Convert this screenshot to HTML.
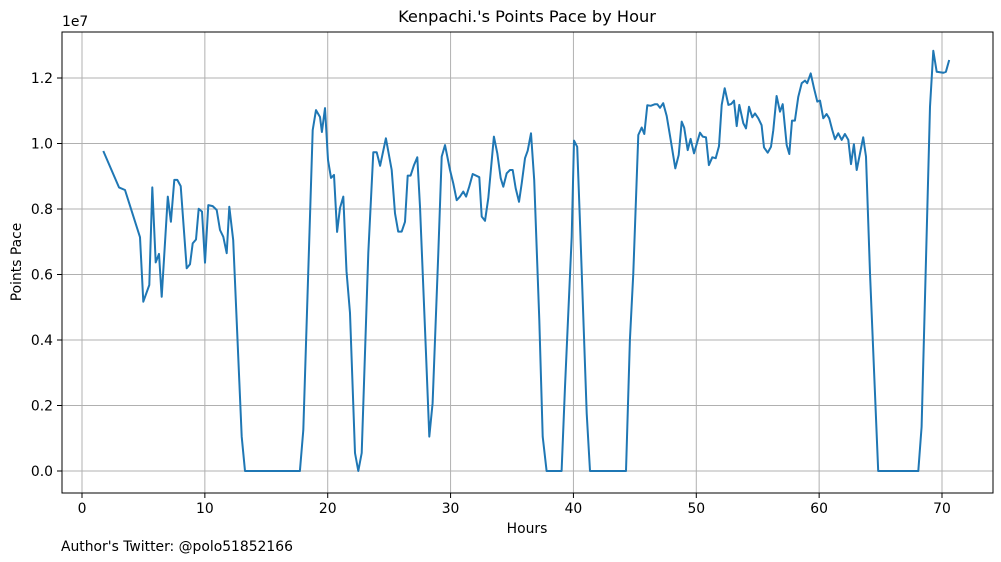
<!DOCTYPE html>
<html><head><meta charset="utf-8"><style>
html,body{margin:0;padding:0;background:#fff;}
svg{display:block;font-family:"DejaVu Sans","Liberation Sans",sans-serif;}
</style></head><body>
<svg id="chart" width="1001" height="562" viewBox="0 0 1001 562">
<rect width="1001" height="562" fill="#fff"/>
<text x="527" y="22" text-anchor="middle" font-size="16.2" fill="#000">Kenpachi.'s Points Pace by Hour</text>
<g id="grid"></g>
<g id="axes"></g>
<path id="series" fill="none" stroke="#1f77b4" stroke-width="2" stroke-linejoin="round"/>
<rect x="62" y="32" width="931" height="461" fill="none" stroke="#000" stroke-width="1"/>
<text x="62" y="26" font-size="13.9">1e7</text>
<text x="527" y="533" text-anchor="middle" font-size="13.9">Hours</text>
<text x="21" y="262" text-anchor="middle" font-size="13.9" transform="rotate(-90 21 262)">Points Pace</text>
<text x="61" y="551" font-size="13.9">Author's Twitter: @polo51852166</text>
</svg>
<script>
const hours=[1.73,3.01,3.50,4.72,4.99,5.48,5.72,6.00,6.27,6.49,6.98,7.24,7.51,7.76,8.03,8.52,8.79,9.01,9.28,9.50,9.77,10.01,10.28,10.64,10.96,11.23,11.50,11.78,11.99,12.31,13.00,13.27,17.74,18.01,18.78,19.05,19.37,19.53,19.78,20.02,20.27,20.51,20.76,21.00,21.27,21.53,21.81,22.22,22.49,22.77,23.30,23.71,23.99,24.26,24.74,25.21,25.48,25.74,26.02,26.29,26.51,26.75,27.02,27.29,27.51,28.00,28.27,28.54,29.00,29.28,29.55,29.95,30.22,30.50,30.77,31.04,31.26,31.52,31.80,32.34,32.53,32.80,33.07,33.53,33.80,34.08,34.29,34.57,34.84,35.06,35.30,35.57,35.79,36.06,36.28,36.55,36.81,37.22,37.50,37.82,39.04,39.31,39.86,40.05,40.31,40.53,41.08,41.35,44.28,44.60,44.87,45.28,45.56,45.77,46.01,46.29,46.64,46.83,47.05,47.31,47.59,47.92,48.29,48.57,48.81,49.02,49.30,49.54,49.81,50.30,50.52,50.79,51.03,51.30,51.58,51.85,52.07,52.31,52.61,52.85,53.07,53.29,53.50,53.83,54.05,54.29,54.56,54.78,55.05,55.32,55.51,55.81,56.08,56.27,56.54,56.81,57.03,57.36,57.57,57.79,58.03,58.30,58.58,58.85,59.03,59.31,59.58,59.85,60.07,60.34,60.61,60.82,61.07,61.29,61.56,61.84,62.10,62.37,62.59,62.83,63.06,63.59,63.81,64.14,64.81,68.07,68.34,69.02,69.29,69.57,70.10,70.32,70.59];
const paceMillions=[9.77,8.66,8.58,7.14,5.17,5.68,8.66,6.37,6.63,5.32,8.38,7.61,8.89,8.89,8.70,6.19,6.31,6.95,7.07,8.01,7.92,6.36,8.12,8.09,7.97,7.36,7.15,6.65,8.07,7.05,1.05,0,0,1.25,10.41,11.02,10.81,10.35,11.08,9.50,8.95,9.04,7.30,8.03,8.38,6.10,4.82,0.55,0,0.55,6.66,9.73,9.73,9.32,10.16,9.19,7.87,7.31,7.31,7.61,9.02,9.02,9.34,9.58,8.07,3.59,1.05,2.07,6.65,9.60,9.95,9.19,8.78,8.27,8.38,8.53,8.38,8.68,9.07,8.97,7.77,7.64,8.33,10.21,9.70,8.94,8.68,9.09,9.19,9.19,8.63,8.22,8.78,9.55,9.78,10.31,8.89,4.61,1.05,0,0,2.57,7.15,10.09,9.90,7.66,1.76,0,0,4.0,6.04,10.26,10.49,10.29,11.17,11.15,11.20,11.20,11.09,11.23,10.84,10.11,9.24,9.65,10.67,10.48,9.80,10.14,9.70,10.33,10.21,10.19,9.34,9.58,9.55,9.92,11.18,11.69,11.18,11.21,11.31,10.53,11.18,10.62,10.46,11.12,10.80,10.92,10.77,10.56,9.88,9.72,9.90,10.41,11.45,10.97,11.20,9.95,9.68,10.70,10.70,11.43,11.84,11.92,11.84,12.14,11.69,11.28,11.31,10.77,10.90,10.77,10.41,10.13,10.31,10.11,10.29,10.11,9.37,9.98,9.19,10.19,9.60,6.04,0,0,1.35,11.12,12.83,12.19,12.16,12.19,12.55];
const xTicks=[0,10,20,30,40,50,60,70];
const yTicks=[0,2,4,6,8,10,12];
const yTickLabels=["0.0","0.2","0.4","0.6","0.8","1.0","1.2"];

const NS="http://www.w3.org/2000/svg";
const X=h=>82+h*(942-82)/70;
const Y=v=>471-v*(471-78)/12;
const grid=document.getElementById('grid'), axes=document.getElementById('axes');
function mk(tag,attrs,parent){const e=document.createElementNS(NS,tag);for(const k in attrs)e.setAttribute(k,attrs[k]);parent.appendChild(e);return e;}
xTicks.forEach(t=>{
  const x=X(t);
  const g=mk('line',{x1:x,x2:x,y1:32,y2:493,stroke:'#b0b0b0','stroke-width':1},grid);
  
  
  const tk=mk('line',{x1:x,x2:x,y1:493,y2:498,stroke:'#000','stroke-width':1},axes);
  
  
  const lb=mk('text',{x:x,y:513,'text-anchor':'middle','font-size':13.9},axes);
  lb.textContent=String(t);
  
  
});
yTicks.forEach((t,i)=>{
  const y=Y(t);
  const g=mk('line',{x1:62,x2:993,y1:y,y2:y,stroke:'#b0b0b0','stroke-width':1},grid);
  
  
  const tk=mk('line',{x1:57,x2:62,y1:y,y2:y,stroke:'#000','stroke-width':1},axes);
  
  
  const lb=mk('text',{x:53,y:y+5,'text-anchor':'end','font-size':13.9},axes);
  lb.textContent=yTickLabels[i];
  
  
});
document.getElementById('series').setAttribute('d',hours.map((h,i)=>(i?'L':'M')+X(h).toFixed(1)+','+Y(paceMillions[i]).toFixed(1)).join(''));
</script>
</body></html>
